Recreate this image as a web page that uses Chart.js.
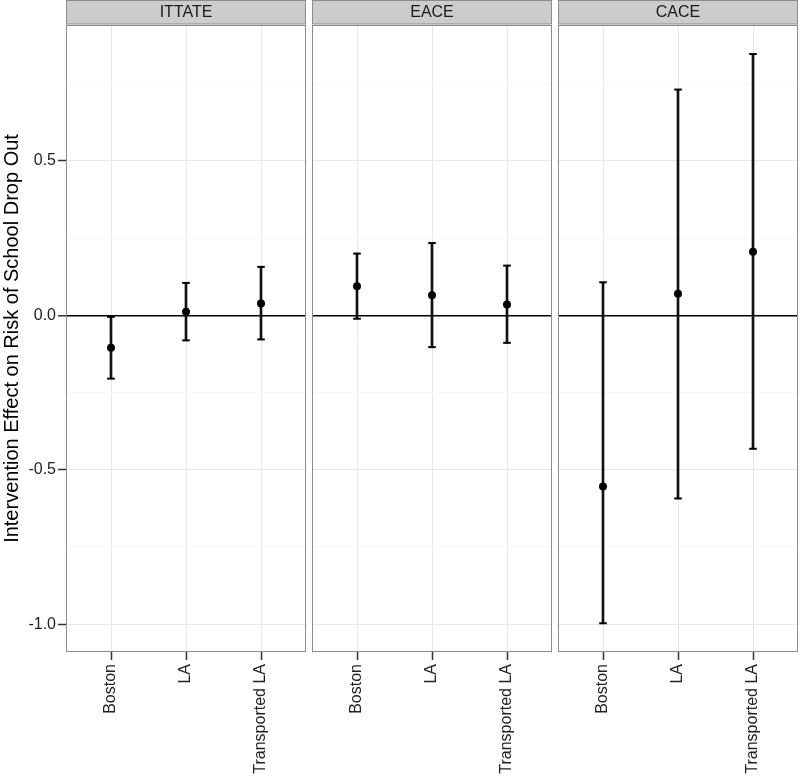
<!DOCTYPE html>
<html>
<head>
<meta charset="utf-8">
<script src="https://cdn.jsdelivr.net/npm/chart.js@4.4.1/dist/chart.umd.min.js"></script>
<style>
  body { margin: 0; background: #fff; }
  #wrap { position: relative; width: 800px; height: 778px; }
  #wrap canvas { position: absolute; left: 0; top: 0; }
</style>
</head>
<body>
<div id="wrap">
  <canvas id="p0" width="800" height="778"></canvas>
  <canvas id="p1" width="800" height="778"></canvas>
  <canvas id="p2" width="800" height="778"></canvas>
</div>
<script>
// data
const categories = ["Boston", "LA", "Transported LA"];
const panelNames = ["ITTATE", "EACE", "CACE"];

const ittateEst = [-0.105, 0.012, 0.038];
const ittateLow = [-0.205, -0.081, -0.078];
const ittateHigh = [-0.005, 0.105, 0.157];

const eaceEst = [0.094, 0.065, 0.035];
const eaceLow = [-0.011, -0.103, -0.089];
const eaceHigh = [0.2, 0.234, 0.161];

const caceEst = [-0.554, 0.07, 0.206];
const caceLow = [-0.997, -0.593, -0.432];
const caceHigh = [0.107, 0.731, 0.846];

const yTicks = [-1, -0.75, -0.5, -0.25, 0, 0.25, 0.5, 0.75];
const yMajor = [-1, -0.5, 0, 0.5];
const yMin = -1.09, yMax = 0.94;

const est = [ittateEst, eaceEst, caceEst];
const low = [ittateLow, eaceLow, caceLow];
const high = [ittateHigh, eaceHigh, caceHigh];

// panel placement (left, right of plot area)
const panelBox = [[66, 306], [312, 552], [558, 798]];
const FONT = "'Liberation Sans', Arial, sans-serif";

// grey strip on top + panel border
const facetPlugin = {
  id: "facet",
  afterDraw(chart, args, opts) {
    const { ctx, chartArea: a } = chart;
    ctx.save();
    ctx.fillStyle = "#CCCCCC";
    ctx.fillRect(a.left, 0, a.right - a.left, 24);
    ctx.strokeStyle = "#8C8C8C";
    ctx.lineWidth = 1;
    ctx.strokeRect(a.left + 0.5, 0.5, a.right - a.left - 1, 23.5);
    ctx.strokeRect(a.left + 0.5, a.top + 0.5, a.right - a.left - 1, a.bottom - a.top - 1);
    ctx.fillStyle = "#1A1A1A";
    ctx.font = "16px " + FONT;
    ctx.textAlign = "center";
    ctx.textBaseline = "middle";
    ctx.fillText(opts.label, (a.left + a.right) / 2, 13);
    ctx.restore();
  }
};

function makePanel(i) {
  const first = i === 0;
  const pts = categories.map((c, k) => ({ x: k + 1, y: est[i][k] }));
  const bars = categories.map((c, k) => ({ x: k + 1, y: [low[i][k], high[i][k]] }));
  const caps = [];
  categories.forEach((c, k) => {
    caps.push({ x: k + 1, y: low[i][k] });
    caps.push({ x: k + 1, y: high[i][k] });
  });

  new Chart(document.getElementById("p" + i), {
    type: "scatter",
    data: {
      datasets: [
        {
          data: pts,
          pointRadius: 4,
          pointHoverRadius: 4,
          backgroundColor: "#000",
          borderColor: "#000",
          borderWidth: 0
        },
        {
          data: caps,
          pointStyle: "line",
          pointRadius: 3.8,
          pointHoverRadius: 3.8,
          borderColor: "#000",
          borderWidth: 2
        },
        {
          type: "bar",
          data: bars,
          barThickness: 2,
          backgroundColor: "#111",
          borderWidth: 0,
          grouped: false
        }
      ]
    },
    options: {
      responsive: false,
      animation: false,
      events: [],
      layout: {
        autoPadding: false,
        padding: { left: first ? 0 : panelBox[i][0], right: 800 - panelBox[i][1], top: 25, bottom: 0 }
      },
      plugins: {
        legend: { display: false },
        tooltip: { enabled: false },
        facet: { label: panelNames[i] }
      },
      scales: {
        x: {
          type: "linear",
          min: 0.4,
          max: 3.6,
          offset: false,
          afterBuildTicks: (s) => { s.ticks = categories.map((c, k) => ({ value: k + 1 })); },
          afterFit: (s) => { s.height = 126; s.paddingLeft = 0; s.paddingRight = 0; },
          border: { display: false },
          grid: {
            offset: false,
            color: "#E8E8E8",
            lineWidth: 1,
            tickColor: "#333",
            tickLength: 8,
            tickWidth: 1.5
          },
          ticks: {
            minRotation: 90,
            maxRotation: 90,
            autoSkip: false,
            padding: 4,
            color: "#222",
            font: { family: FONT, size: 16 },
            callback: (v) => categories[Math.round(v) - 1]
          }
        },
        y: {
          type: "linear",
          min: yMin,
          max: yMax,
          afterBuildTicks: (s) => { s.ticks = yTicks.map(v => ({ value: v })); },
          afterFit: (s) => { s.width = first ? 66 : 0; s.paddingTop = 0; s.paddingBottom = 0; },
          border: { display: false },
          title: {
            display: first,
            text: "Intervention Effect on Risk of School Drop Out",
            color: "#000",
            font: { family: FONT, size: 20 },
            padding: { top: 0, bottom: 0 }
          },
          grid: {
            drawTicks: first,
            tickLength: 8,
            tickWidth: 1.5,
            color: (c) => c.tick.value === 0 ? "#000" : (yMajor.includes(c.tick.value) ? "#E8E8E8" : "#F7F7F7"),
            lineWidth: (c) => c.tick.value === 0 ? 1.6 : 1,
            tickColor: (c) => yMajor.includes(c.tick.value) ? "#333" : "rgba(0,0,0,0)"
          },
          ticks: {
            display: first,
            padding: 2,
            color: "#222",
            font: { family: FONT, size: 16 },
            callback: (v) => yMajor.includes(v) ? v.toFixed(1) : ""
          }
        }
      }
    },
    plugins: [facetPlugin]
  });
}

panelNames.forEach((p, i) => makePanel(i));
</script>
</body>
</html>
